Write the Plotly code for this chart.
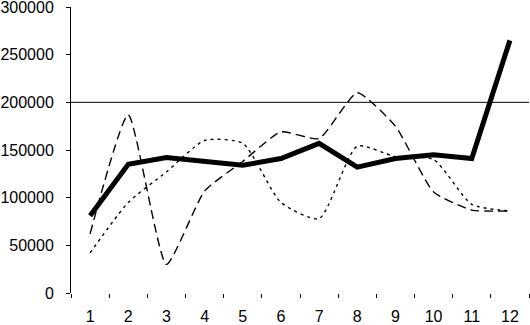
import plotly.graph_objects as go

months = ["1", "2", "3", "4", "5", "6", "7", "8", "9", "10", "11", "12"]
series_solid = [81000, 135000, 142000, 138000, 134000, 141000, 157000, 132000, 141000, 145000, 141000, 265000]
series_dash = [62000, 187000, 30000, 107000, 138000, 169000, 162000, 210000, 175000, 106000, 87000, 86000]
series_dot = [42000, 95000, 127000, 160000, 157000, 95000, 78000, 154000, 143000, 140000, 93000, 86000]
y_ticks = [0, 50000, 100000, 150000, 200000, 250000, 300000]
ref_value = 200000

fig = go.Figure()
fig.add_trace(go.Scatter(x=months, y=series_dot, mode="lines",
                         line=dict(color="black", width=1.4, dash="3px,4px", shape="spline", smoothing=0.6)))
fig.add_trace(go.Scatter(x=months, y=series_dash, mode="lines",
                         line=dict(color="black", width=1.4, dash="9px,5px", shape="spline", smoothing=0.5)))
fig.add_trace(go.Scatter(x=months, y=series_solid, mode="lines",
                         line=dict(color="black", width=5)))

fig.add_shape(type="line", xref="paper", yref="y", x0=0, x1=1, y0=ref_value, y1=ref_value,
              line=dict(color="black", width=1), layer="below")

fig.update_layout(
    width=530, height=325,
    margin=dict(l=71, r=1, t=7, b=32),
    paper_bgcolor="white", plot_bgcolor="white",
    showlegend=False,
    font=dict(family="Liberation Sans, Arial, sans-serif", size=16, color="black"),
)
fig.update_xaxes(type="category", tickson="boundaries", ticks="outside", ticklen=4,
                 tickcolor="black", showgrid=False, showline=False, zeroline=False,
                 range=[-0.5, 11.5], automargin=False, ticklabelstandoff=12,
                 ticklabeloverflow="allow")
fig.update_yaxes(range=[0, 300000], tickvals=y_ticks, ticks="outside", ticklen=4,
                 tickcolor="black", showline=True, linecolor="black", linewidth=1,
                 showgrid=False, zeroline=False, tickformat="d", automargin=False,
                 ticklabelstandoff=9, ticklabeloverflow="allow")

fig.write_html("out.html", config={"displayModeBar": False},
               post_script="document.body.style.margin='0';document.body.style.overflow='hidden';")
